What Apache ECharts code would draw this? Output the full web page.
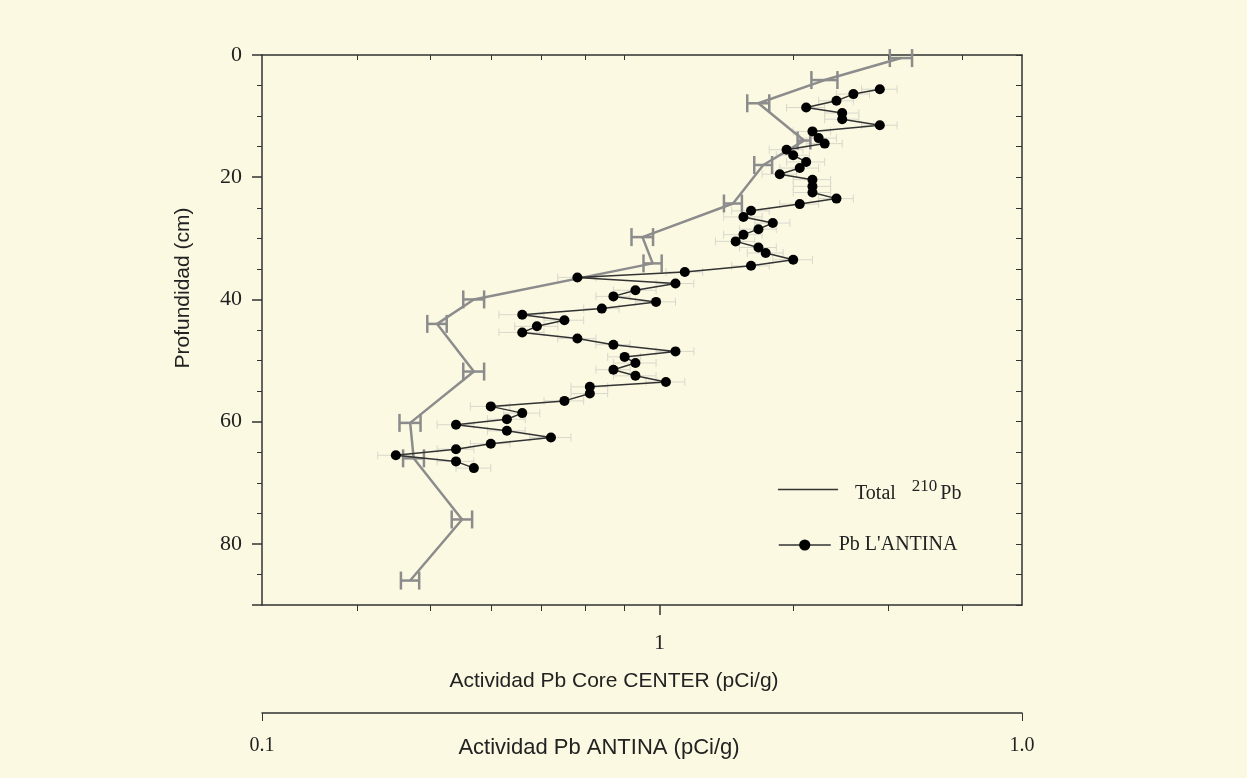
<!DOCTYPE html>
<html><head><meta charset="utf-8">
<script src="https://cdn.jsdelivr.net/npm/echarts@6/dist/echarts.min.js"></script>
<style>html,body{margin:0;padding:0;background:#FBF9E2}#c{width:1247px;height:778px}</style>
</head><body><div id="c"></div>
<script>
// ---- Data: Total 210Pb (Core CENTER, pCi/g) ----
const totalDepth = [0.5, 4.1, 7.9, 14, 18, 24.3, 29.8, 34.1, 40, 44, 51.8, 60.2, 66, 76, 86];
const totalValue = [2.08, 1.65, 1.35, 1.55, 1.37, 1.25, 0.95, 0.98, 0.57, 0.51, 0.57, 0.47, 0.475, 0.55, 0.47];
const totalErr   = [0.07, 0.065, 0.045, 0.03, 0.037, 0.034, 0.031, 0.027, 0.018, 0.015, 0.018, 0.015, 0.015, 0.017, 0.013];

// ---- Data: Pb L'ANTINA (pCi/g) ----
const antinaDepth = [5.6,6.4,7.5,8.6,9.5,10.5,11.5,12.5,13.6,14.5,15.5,16.4,17.5,18.5,19.5,
  20.4,21.5,22.5,23.5,24.4,25.5,26.5,27.5,28.5,29.4,30.5,31.5,32.4,33.5,34.5,
  35.5,36.4,37.4,38.5,39.5,40.4,41.5,42.5,43.4,44.4,45.4,46.4,47.4,48.5,49.4,
  50.4,51.5,52.5,53.5,54.3,55.4,56.6,57.5,58.6,59.6,60.5,61.5,62.6,63.6,64.5,
  65.5,66.5,67.6];
const antinaValue = [0.65,0.60,0.57,0.52,0.58,0.58,0.65,0.53,0.54,0.55,
  0.49,0.50,0.52,0.51,0.48,0.53,0.53,0.53,0.57,0.51,
  0.44,0.43,0.47,0.45,0.43,0.42,0.45,0.46,0.50,0.44,
  0.36,0.26,0.35,0.31,0.29,0.33,0.28,0.22,0.25,0.23,
  0.22,0.26,0.29,0.35,0.30,0.31,0.29,0.31,0.34,0.27,
  0.27,0.25,0.20,0.22,0.21,0.18,0.21,0.24,0.20,0.18,
  0.15,0.18,0.19];
const antinaErr = [0.035,0.03,0.03,0.03,0.03,0.03,0.035,0.03,0.03,0.03,
  0.025,0.025,0.03,0.03,0.025,0.03,0.03,0.03,0.03,0.03,
  0.025,0.025,0.025,0.025,0.025,0.025,0.025,0.025,0.03,0.025,
  0.02,0.015,0.02,0.02,0.015,0.02,0.015,0.015,0.015,0.015,
  0.015,0.015,0.015,0.02,0.015,0.02,0.015,0.02,0.02,0.015,
  0.015,0.015,0.012,0.012,0.012,0.01,0.012,0.015,0.012,0.01,
  0.008,0.01,0.01];

// ---- Ticks ----
const centerMinorTicks = [0.4,0.5,0.6,0.7,0.8,0.9,1.5,2,2.5];
const centerMajorTicks = [1];
const antinaTicks = [0.1, 1.0];
const antinaTickLabels = ['0.1', '1.0'];
const depthMin = 0, depthMax = 90;
const depthLabels = [0, 20, 40, 60, 80];

const serif = 'Liberation Serif';
const sans = 'Liberation Sans';
const axisColor = '#333';

function errSeries(name, vals, deps, errs, xIdx, color, lw, cap, z) {
  return {
    name: name, type: 'custom', xAxisIndex: xIdx, yAxisIndex: 0, z: z, silent: true,
    data: vals.map((v, i) => [v, deps[i], errs[i]]),
    encode: { x: 0, y: 1 },
    renderItem: function (params, api) {
      const v = api.value(0), d = api.value(1), e = api.value(2);
      const p1 = api.coord([v - e, d]);
      const p2 = api.coord([v + e, d]);
      const st = { stroke: color, lineWidth: lw, fill: null };
      return { type: 'group', children: [
        { type: 'line', shape: { x1: p1[0], y1: p1[1], x2: p2[0], y2: p2[1] }, style: st },
        { type: 'line', shape: { x1: p1[0], y1: p1[1] - cap, x2: p1[0], y2: p1[1] + cap }, style: st },
        { type: 'line', shape: { x1: p2[0], y1: p2[1] - cap, x2: p2[0], y2: p2[1] + cap }, style: st }
      ]};
    }
  };
}

const centerBase = { type: 'log', logBase: 10, min: 0.3, max: 3, splitLine: { show: false }, minorTick: { show: false } };

const chart = echarts.init(document.getElementById('c'), null, { renderer: 'canvas' });
chart.setOption({
  backgroundColor: '#FBF9E2',
  animation: false,
  grid: { left: 262, top: 55, width: 760, height: 550, outerBoundsMode: 'none', containLabel: false },
  legend: [
    { data: [{ name: 'Total 210Pb', icon: 'rect', itemStyle: { color: '#333' } }],
      left: 773, top: 473, itemWidth: 60, itemHeight: 1.5, selectedMode: false,
      formatter: () => '{t0|Total}{s|210}{t|Pb}',
      textStyle: { fontFamily: serif, fontSize: 20, color: '#222',
        rich: { t0: { fontFamily: serif, fontSize: 20, color: '#222', padding: [9, 0, 0, 12] },
                t: { fontFamily: serif, fontSize: 20, color: '#222', padding: [9, 0, 0, 0] },
                s: { fontFamily: serif, fontSize: 17, color: '#222', padding: [0, 3, 6, 16] } } },
      padding: [5, 5, 5, 5] },
    { data: [{ name: "Pb L'ANTINA", lineStyle: { color: '#333', width: 1.5 }, itemStyle: { color: '#000' } }],
      left: 773, top: 530, itemWidth: 52, itemHeight: 14, selectedMode: false,
      textStyle: { fontFamily: serif, fontSize: 20, color: '#222', padding: [0, 0, 0, 3] } }
  ],
  xAxis: [
    Object.assign({}, centerBase, { position: 'bottom',
      axisLine: { show: true, onZero: false, lineStyle: { color: axisColor, width: 1.5 } },
      axisTick: { show: true, customValues: centerMinorTicks, length: 6, lineStyle: { color: axisColor } },
      axisLabel: { show: false } }),
    Object.assign({}, centerBase, { position: 'bottom',
      axisLine: { show: false, onZero: false },
      axisTick: { show: true, customValues: centerMajorTicks, length: 10, lineStyle: { color: axisColor, width: 1.5 } },
      axisLabel: { show: true, customValues: centerMajorTicks, formatter: v => String(Math.round(v)), margin: 27,
        fontFamily: serif, fontSize: 22, color: '#222' },
      name: 'Actividad Pb Core CENTER (pCi/g)', nameLocation: 'middle', nameGap: 66, nameMoveOverlap: false,
      nameTextStyle: { fontFamily: sans, fontSize: 21, color: '#222', padding: [0, 56, 0, 0] } }),
    Object.assign({}, centerBase, { position: 'top',
      axisLine: { show: true, onZero: false, lineStyle: { color: axisColor, width: 1.5 } },
      axisTick: { show: true, inside: true, customValues: centerMinorTicks, length: 5, lineStyle: { color: axisColor } },
      axisLabel: { show: false } }),
    { type: 'log', logBase: 10, min: 0.1, max: 1, position: 'bottom', offset: 108,
      splitLine: { show: false }, minorTick: { show: false },
      axisLine: { show: true, onZero: false, lineStyle: { color: axisColor, width: 1.5 } },
      axisTick: { show: true, customValues: antinaTicks, length: 8, lineStyle: { color: axisColor } },
      axisLabel: { show: true, customValues: antinaTicks, margin: 23,
        formatter: v => antinaTickLabels[Math.abs(v - antinaTicks[0]) < Math.abs(v - antinaTicks[1]) ? 0 : 1],
        fontFamily: serif, fontSize: 20, color: '#222' },
      name: 'Actividad Pb ANTINA (pCi/g)', nameLocation: 'middle', nameGap: 24, nameMoveOverlap: false,
      nameTextStyle: { fontFamily: sans, fontSize: 22, color: '#222', padding: [0, 86, 0, 0] } }
  ],
  yAxis: [
    { type: 'value', inverse: true, min: depthMin, max: depthMax, interval: 20, position: 'left',
      splitLine: { show: false },
      axisLine: { show: true, onZero: false, lineStyle: { color: axisColor, width: 1.5 } },
      axisTick: { show: true, length: 10, lineStyle: { color: axisColor, width: 1.5 } },
      minorTick: { show: true, splitNumber: 4, length: 5, lineStyle: { color: axisColor } },
      axisLabel: { margin: 20, fontFamily: serif, fontSize: 22, color: '#222',
        formatter: v => (depthLabels.indexOf(v) >= 0 ? String(v) : '') },
      name: 'Profundidad (cm)', nameLocation: 'middle', nameGap: 68, nameMoveOverlap: false,
      nameTextStyle: { fontFamily: sans, fontSize: 21, color: '#222', padding: [0, 0, 0, 84] } },
    { type: 'value', inverse: true, min: depthMin, max: depthMax, interval: 5, position: 'right',
      splitLine: { show: false },
      axisLine: { show: true, onZero: false, lineStyle: { color: axisColor, width: 1.5 } },
      axisTick: { show: true, inside: true, length: 6, lineStyle: { color: axisColor } },
      axisLabel: { show: false } }
  ],
  series: [
    errSeries('errAntina', antinaValue, antinaDepth, antinaErr, 3, '#d9d8cc', 1, 4, 1),
    { name: "Pb L'ANTINA", type: 'line', xAxisIndex: 3, yAxisIndex: 0, z: 3,
      data: antinaValue.map((v, i) => [v, antinaDepth[i]]),
      symbol: 'circle', symbolSize: 10, showSymbol: true,
      itemStyle: { color: '#000' }, lineStyle: { color: '#333', width: 1.5 } },
    errSeries('errTotal', totalValue, totalDepth, totalErr, 0, '#8c8c8c', 2.5, 9, 2),
    { name: 'Total 210Pb', type: 'line', xAxisIndex: 0, yAxisIndex: 0, z: 2,
      data: totalValue.map((v, i) => [v, totalDepth[i]]),
      symbol: 'none', lineStyle: { color: '#8c8c8c', width: 2.5 } }
  ]
});
</script></body></html>
